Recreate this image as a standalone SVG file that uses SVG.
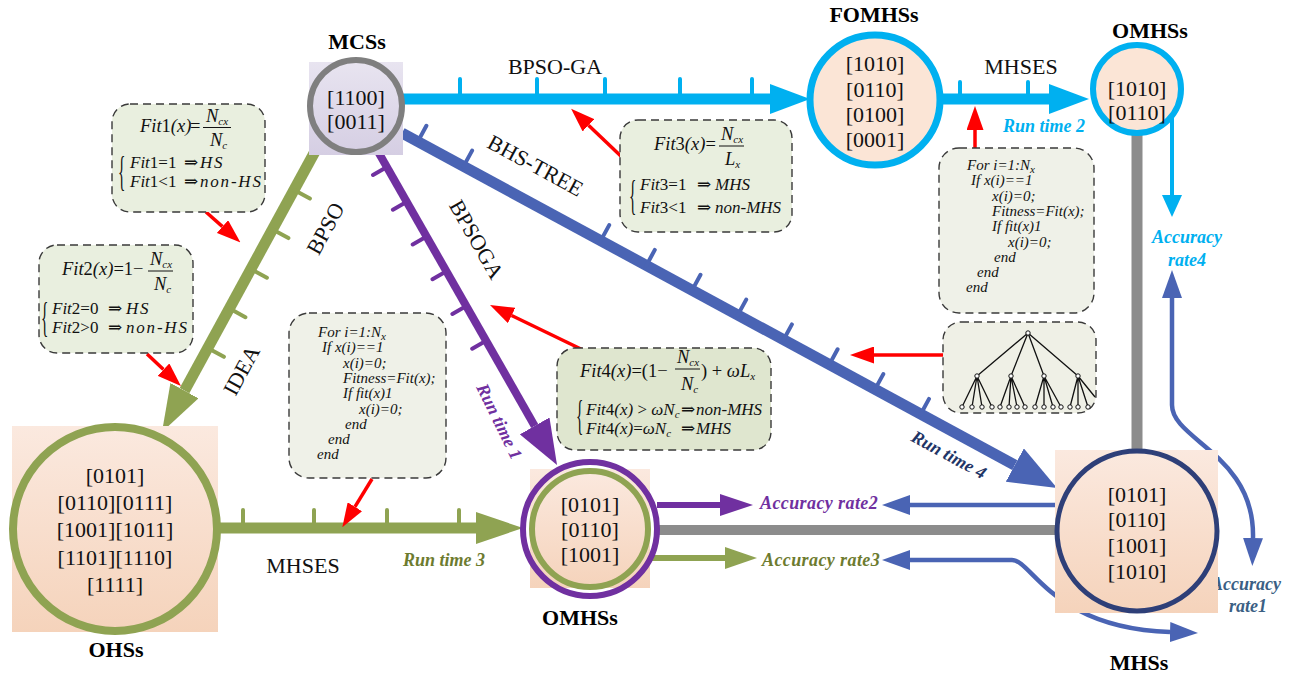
<svg xmlns="http://www.w3.org/2000/svg" width="1298" height="677" viewBox="0 0 1298 677">
<defs>
  <linearGradient id="peach" x1="0" y1="0" x2="0" y2="1">
    <stop offset="0" stop-color="#fbe9df"/>
    <stop offset="1" stop-color="#f5d3bb"/>
  </linearGradient>
  <linearGradient id="lav" x1="0" y1="0" x2="0" y2="1">
    <stop offset="0" stop-color="#e8e4f0"/>
    <stop offset="1" stop-color="#d5cee3"/>
  </linearGradient>
  <marker id="mCy" markerUnits="userSpaceOnUse" viewBox="0 0 40 30" markerWidth="40" markerHeight="30" refX="0" refY="15" orient="auto"><path d="M0,0 L40,15 L0,30 z" fill="#00b0f0"/></marker>
  <marker id="mGr" markerUnits="userSpaceOnUse" viewBox="0 0 47 32" markerWidth="47" markerHeight="32" refX="0" refY="16" orient="auto"><path d="M0,0 L47,16 L0,32 z" fill="#8fa352"/></marker>
  <marker id="mPu" markerUnits="userSpaceOnUse" viewBox="0 0 45 34" markerWidth="45" markerHeight="34" refX="0" refY="17" orient="auto"><path d="M0,0 L45,17 L0,34 z" fill="#7030a0"/></marker>
  <marker id="mBl" markerUnits="userSpaceOnUse" viewBox="0 0 48 38" markerWidth="48" markerHeight="38" refX="0" refY="19" orient="auto"><path d="M0,0 L48,19 L0,38 z" fill="#4a64b4"/></marker>
  <marker id="mPuS" markerUnits="userSpaceOnUse" viewBox="0 0 33 22" markerWidth="33" markerHeight="22" refX="0" refY="11" orient="auto"><path d="M0,0 L33,11 L0,22 z" fill="#7030a0"/></marker>
  <marker id="mGrS" markerUnits="userSpaceOnUse" viewBox="0 0 32 22" markerWidth="32" markerHeight="22" refX="0" refY="11" orient="auto"><path d="M0,0 L32,11 L0,22 z" fill="#8fa352"/></marker>
  <marker id="mBlS" markerUnits="userSpaceOnUse" viewBox="0 0 28 20" markerWidth="28" markerHeight="20" refX="0" refY="10" orient="auto-start-reverse"><path d="M0,0 L28,10 L0,20 z" fill="#4a64b4"/></marker>
  <marker id="mCyS" markerUnits="userSpaceOnUse" viewBox="0 0 22 20" markerWidth="22" markerHeight="20" refX="0" refY="10" orient="auto"><path d="M0,0 L22,10 L0,20 z" fill="#00b0f0"/></marker>
  <marker id="mRed" markerUnits="userSpaceOnUse" viewBox="0 0 24 17" markerWidth="24" markerHeight="17" refX="0" refY="8.5" orient="auto"><path d="M0,0 L24,8.5 L0,17 z" fill="#ff0000"/></marker>
</defs>
<style>
  text{font-family:"Liberation Serif","DejaVu Serif",serif;fill:#111}
  .num{font-size:22px;text-anchor:middle}
  .title{font-size:22px;font-weight:bold;text-anchor:middle;fill:#000}
  .lbl{font-size:22px;text-anchor:middle}
  .rt{font-size:18px;font-weight:bold;font-style:italic}
  .box{stroke:#3a3a3a;stroke-width:1.4;stroke-dasharray:8 5}
  .f{font-size:18.5px;font-style:italic}
  .g{font-size:17px;font-style:italic}
  .w{letter-spacing:1.8px}
  .u{font-style:normal}
  .sub{font-size:11px}
  .br{font-size:28px;font-style:normal}
  .code{font-size:15px;font-style:italic}
  .fl{stroke:#111;stroke-width:1}
  .red{stroke:#ff0000;stroke-width:3.5;fill:none;marker-end:url(#mRed)}
  .tk{fill:none;stroke-width:4;stroke-linecap:round}
  .tree{stroke:#111;stroke-width:1.3;fill:none}
  .leaf{fill:#fff;stroke:#111;stroke-width:1}
</style>

<!-- connectors -->
<g id="connectors">
  <!-- BPSO-GA -->
  <line x1="403" y1="99" x2="770" y2="99" stroke="#00b0f0" stroke-width="11" marker-end="url(#mCy)"/>
  <path class="tk" stroke="#00b0f0" d="M460,99 V79 M537,99 V79 M605,99 V79 M680,99 V79 M752,99 V79"/>
  <!-- MHSES top -->
  <line x1="940" y1="99" x2="1049" y2="99" stroke="#00b0f0" stroke-width="11" marker-end="url(#mCy)"/>
  <path class="tk" stroke="#00b0f0" d="M960,99 V82 M1028,99 V82"/>
  <!-- gray vertical OMHSs to MHSs -->
  <line x1="1137" y1="133" x2="1137" y2="452" stroke="#8c8c8c" stroke-width="11"/>
  <!-- gray horizontal OMHSs to MHSs -->
  <line x1="658" y1="530" x2="1058" y2="530" stroke="#8c8c8c" stroke-width="10"/>
  <!-- BHS-TREE -->
  <line x1="402" y1="133" x2="1014.8" y2="465.1" stroke="#4a64b4" stroke-width="11" marker-end="url(#mBl)"/>
  <path class="tk" stroke="#4a64b4" d="M417.8,141.6 L426.4,125.8 M463.5,166.4 L472.1,150.6 M600.6,240.9 L609.2,225.1 M646.2,265.7 L654.8,249.9 M691.9,290.6 L700.5,274.8 M737.6,315.4 L746.2,299.6 M783.3,340.2 L791.9,324.4 M829,365.1 L837.6,349.3 M874.7,389.9 L883.3,374.1 M920.4,414.7 L929,398.9"/>
  <!-- BPSO / IDEA green -->
  <line x1="318" y1="146" x2="184.5" y2="390.7" stroke="#8fa352" stroke-width="11" marker-end="url(#mGr)"/>
  <path class="tk" stroke="#8fa352" d="M294.1,190 L309.9,198.6 M272.6,229.5 L288.4,238.1 M251.1,269.1 L266.9,277.7 M229.6,308.6 L245.4,317.2 M208.1,348.2 L223.9,356.8"/>
  <!-- BPSOGA purple -->
  <line x1="376" y1="148" x2="534.7" y2="425.9" stroke="#7030a0" stroke-width="8" marker-end="url(#mPu)"/>
  <path class="tk" stroke="#7030a0" d="M386.9,167.1 L373,175 M406.8,201.8 L392.9,209.7 M426.6,236.5 L412.7,244.4 M446.4,271.3 L432.5,279.2 M466.3,306 L452.4,313.9 M486.1,340.8 L472.2,348.7"/>
  <!-- MHSES bottom green -->
  <line x1="220" y1="528" x2="476" y2="528" stroke="#8fa352" stroke-width="11" marker-end="url(#mGr)"/>
  <path class="tk" stroke="#8fa352" d="M243,528 V510 M314,528 V510 M387,528 V510 M459,528 V510"/>
  <!-- accuracy arrows -->
  <line x1="657" y1="505" x2="720" y2="505" stroke="#7030a0" stroke-width="6" marker-end="url(#mPuS)"/>
  <line x1="645" y1="558" x2="725" y2="558" stroke="#8fa352" stroke-width="6" marker-end="url(#mGrS)"/>
  <line x1="1061" y1="505" x2="910" y2="505" stroke="#4a64b4" stroke-width="4.5" marker-end="url(#mBlS)"/>
  <path d="M910,560 L1012,560 C1032,560 1052,628 1170,632" fill="none" stroke="#4a64b4" stroke-width="4.5" marker-start="url(#mBlS)" marker-end="url(#mBlS)"/>
  <line x1="1172" y1="116" x2="1172" y2="195" stroke="#00b0f0" stroke-width="4" marker-end="url(#mCyS)"/>
  <path d="M1172,298 L1172,405 C1172,440 1255,455 1253,538" fill="none" stroke="#4a64b4" stroke-width="4.5" marker-start="url(#mBlS)" marker-end="url(#mBlS)"/>
  <!-- red arrows -->
  <line class="red" x1="625" y1="160" x2="588.5" y2="125.3"/>
  <line class="red" x1="206" y1="212" x2="222.5" y2="226.6"/>
  <line class="red" x1="147" y1="354" x2="163.5" y2="369.6"/>
  <line class="red" x1="372" y1="479" x2="354.9" y2="506.8"/>
  <line class="red" x1="583" y1="350" x2="511.6" y2="315.5"/>
  <line class="red" x1="943" y1="355" x2="874" y2="355"/>
  <line class="red" x1="975" y1="148" x2="975" y2="130"/>
</g>

<!-- edge labels -->
<g id="labels">
  <text class="lbl" x="555" y="74">BPSO-GA</text>
  <text class="lbl" x="1021" y="74">MHSES</text>
  <text class="lbl" x="303" y="573">MHSES</text>
  <text class="lbl" transform="translate(532,172) rotate(28.5)">BHS-TREE</text>
  <text class="lbl" transform="translate(470,243) rotate(60.3)">BPSOGA</text>
  <text class="lbl" transform="translate(332,232) rotate(-61.5)">BPSO</text>
  <text class="lbl" transform="translate(248,374) rotate(-61.5)">IDEA</text>
  <text class="rt" x="1003" y="132" style="fill:#00b0f0">Run time 2</text>
  <text class="rt" x="403" y="566" style="fill:#6d7b2f">Run time 3</text>
  <text class="rt" text-anchor="middle" transform="translate(494,424) rotate(64)" style="fill:#7030a0">Run time 1</text>
  <text class="rt" text-anchor="middle" transform="translate(946,460) rotate(28.5)" style="fill:#1f3566">Run time 4</text>
  <text class="rt" x="760" y="509" style="fill:#7030a0;letter-spacing:0.4px">Accuracy rate2</text>
  <text class="rt" x="762" y="566" style="fill:#6d7b2f;letter-spacing:0.4px">Accuracy rate3</text>
  <text class="rt" x="1187" y="243" text-anchor="middle" style="fill:#00b0f0">Accuracy</text>
  <text class="rt" x="1187" y="266" text-anchor="middle" style="fill:#00b0f0">rate4</text>
  <text class="rt" x="1246" y="590" text-anchor="middle" style="fill:#3b5f84">Accuracy</text>
  <text class="rt" x="1248" y="612" text-anchor="middle" style="fill:#3b5f84">rate1</text>
</g>

<!-- nodes -->
<g id="mcss">
  <rect x="309" y="62" width="94" height="93" fill="url(#lav)"/>
  <circle cx="356" cy="106" r="46" fill="none" stroke="#7f7f7f" stroke-width="6"/>
  <text class="num" x="356" y="105">[1100]</text>
  <text class="num" x="356" y="129">[0011]</text>
  <text class="title" x="357" y="49">MCSs</text>
</g>
<g id="fomhss">
  <circle cx="875" cy="100" r="65" fill="#fbe5d6" stroke="#00b0f0" stroke-width="7"/>
  <text class="num" x="875" y="71">[1010]</text>
  <text class="num" x="875" y="97">[0110]</text>
  <text class="num" x="875" y="122">[0100]</text>
  <text class="num" x="875" y="147">[0001]</text>
  <text class="title" x="874" y="22">FOMHSs</text>
</g>
<g id="omhss-top">
  <circle cx="1137" cy="89" r="44" fill="#fbe5d6" stroke="#00b0f0" stroke-width="6"/>
  <text class="num" x="1137" y="96">[1010]</text>
  <text class="num" x="1137" y="120">[0110]</text>
  <text class="title" x="1150" y="38">OMHSs</text>
</g>
<g id="ohss">
  <rect x="12" y="426" width="206" height="206" fill="url(#peach)"/>
  <circle cx="115" cy="529" r="102" fill="none" stroke="#8fa352" stroke-width="8"/>
  <text class="num" x="115" y="483">[0101]</text>
  <text class="num" x="115" y="510">[0110][0111]</text>
  <text class="num" x="115" y="537">[1001][1011]</text>
  <text class="num" x="115" y="565">[1101][1110]</text>
  <text class="num" x="115" y="592">[1111]</text>
  <text class="title" x="116" y="657">OHSs</text>
</g>
<g id="omhss-mid">
  <rect x="530" y="469" width="120" height="119" fill="url(#peach)"/>
  <circle cx="590" cy="529" r="67" fill="none" stroke="#7030a0" stroke-width="6"/>
  <circle cx="590" cy="529" r="58" fill="none" stroke="#8fa352" stroke-width="6"/>
  <text class="num" x="590" y="512">[0101]</text>
  <text class="num" x="590" y="537">[0110]</text>
  <text class="num" x="590" y="562">[1001]</text>
  <text class="title" x="580" y="625">OMHSs</text>
</g>
<g id="mhss">
  <rect x="1055" y="450" width="163" height="163" fill="url(#peach)"/>
  <circle cx="1137" cy="531" r="80" fill="none" stroke="#2e3f78" stroke-width="5"/>
  <text class="num" x="1137" y="502">[0101]</text>
  <text class="num" x="1137" y="527">[0110]</text>
  <text class="num" x="1137" y="553">[1001]</text>
  <text class="num" x="1137" y="579">[1010]</text>
  <text class="title" x="1139" y="670">MHSs</text>
</g>

<!-- formula boxes -->
<g id="fit1">
  <rect class="box" x="112" y="104" width="153" height="108" rx="18" fill="#e9efdf"/>
  <text class="f" x="140" y="132">Fit<tspan class="u">1</tspan>(x)</text>
  <text class="f u" x="190" y="132">=</text>
  <text class="f" x="206" y="122">N<tspan class="sub" dy="3">cx</tspan></text>
  <line class="fl" x1="203" y1="127.5" x2="231" y2="127.5"/>
  <text class="f" x="210" y="146">N<tspan class="sub" dy="3">c</tspan></text>
  <text class="br" transform="translate(118,185) scale(0.55,1.5)">{</text>
  <text class="g" x="130" y="168">Fit<tspan class="u">1=1</tspan></text>
  <text class="g u" x="184" y="168">⇒</text>
  <text class="g w" x="200" y="168">HS</text>
  <text class="g" x="130" y="187">Fit<tspan class="u">1&lt;1</tspan></text>
  <text class="g u" x="184" y="187">⇒</text>
  <text class="g w" x="200" y="187">non-HS</text>
</g>
<g id="fit2">
  <rect class="box" x="39" y="245" width="154" height="108" rx="18" fill="#e9efdf"/>
  <text class="f" x="62" y="275">Fit<tspan class="u">2</tspan>(x)<tspan class="u">=1−</tspan></text>
  <text class="f" x="150" y="265">N<tspan class="sub" dy="3">cx</tspan></text>
  <line class="fl" x1="148" y1="271" x2="173" y2="271"/>
  <text class="f" x="154" y="290">N<tspan class="sub" dy="3">c</tspan></text>
  <text class="br" transform="translate(41,331) scale(0.55,1.5)">{</text>
  <text class="g" x="52" y="314">Fit<tspan class="u">2=0</tspan></text>
  <text class="g u" x="108" y="314">⇒</text>
  <text class="g w" x="126" y="314">HS</text>
  <text class="g" x="52" y="333">Fit<tspan class="u">2&gt;0</tspan></text>
  <text class="g u" x="108" y="333">⇒</text>
  <text class="g w" x="126" y="333">non-HS</text>
</g>
<g id="fit3">
  <rect class="box" x="620" y="120" width="172" height="112" rx="18" fill="#e9efdf"/>
  <text class="f" x="654" y="150">Fit<tspan class="u">3</tspan>(x)<tspan class="u">=</tspan></text>
  <text class="f" x="721" y="140">N<tspan class="sub" dy="3">cx</tspan></text>
  <line class="fl" x1="719" y1="146" x2="744" y2="146"/>
  <text class="f" x="725" y="165">L<tspan class="sub" dy="3">x</tspan></text>
  <text class="br" transform="translate(629,209) scale(0.55,1.5)">{</text>
  <text class="g" x="640" y="190">Fit<tspan class="u">3=1</tspan></text>
  <text class="g u" x="697" y="190">⇒</text>
  <text class="g" x="715" y="190">MHS</text>
  <text class="g" x="640" y="213">Fit<tspan class="u">3&lt;1</tspan></text>
  <text class="g u" x="697" y="213">⇒</text>
  <text class="g" x="715" y="213">non-MHS</text>
</g>
<g id="fit4">
  <rect class="box" x="557" y="348" width="214" height="102" rx="18" fill="#dfe6cf"/>
  <text class="f" x="580" y="377">Fit<tspan class="u">4</tspan>(x)<tspan class="u">=(1−</tspan></text>
  <text class="f" x="677" y="363">N<tspan class="sub" dy="3">cx</tspan></text>
  <line class="fl" x1="675" y1="369" x2="700" y2="369"/>
  <text class="f" x="681" y="390">N<tspan class="sub" dy="3">c</tspan></text>
  <text class="f" x="701" y="377"><tspan class="u">) + </tspan>ωL<tspan class="sub" dy="3">x</tspan></text>
  <text class="br" transform="translate(576,429) scale(0.55,1.5)">{</text>
  <text class="g" x="586" y="415">Fit<tspan class="u">4</tspan>(x) <tspan class="u">&gt;</tspan> ωN<tspan class="sub" dy="3">c</tspan></text>
  <text class="g u" x="681" y="415">⇒</text>
  <text class="g" x="696" y="415">non-MHS</text>
  <text class="g" x="586" y="434">Fit<tspan class="u">4</tspan>(x)<tspan class="u">=</tspan>ωN<tspan class="sub" dy="3">c</tspan></text>
  <text class="g u" x="681" y="434">⇒</text>
  <text class="g" x="696" y="434">MHS</text>
</g>
<g id="code1">
  <rect class="box" x="289" y="313" width="157" height="165" rx="20" fill="#eff1e8"/>
  <text class="code" x="318" y="337">For i=1:N<tspan class="sub" dy="3">x</tspan></text>
  <text class="code" x="322" y="352">If x(i)==1</text>
  <text class="code" x="343" y="368">x(i)=0;</text>
  <text class="code" x="343" y="383">Fitness=Fit(x);</text>
  <text class="code" x="343" y="398">If fit(x)1</text>
  <text class="code" x="359" y="414">x(i)=0;</text>
  <text class="code" x="345" y="429">end</text>
  <text class="code" x="328" y="444">end</text>
  <text class="code" x="317" y="459">end</text>
</g>
<g id="code2">
  <rect class="box" x="939" y="148" width="155" height="165" rx="20" fill="#eff1e8"/>
  <text class="code" x="967" y="170">For i=1:N<tspan class="sub" dy="3">x</tspan></text>
  <text class="code" x="971" y="185">If x(i)==1</text>
  <text class="code" x="992" y="201">x(i)=0;</text>
  <text class="code" x="992" y="216">Fitness=Fit(x);</text>
  <text class="code" x="992" y="231">If fit(x)1</text>
  <text class="code" x="1008" y="247">x(i)=0;</text>
  <text class="code" x="994" y="262">end</text>
  <text class="code" x="977" y="277">end</text>
  <text class="code" x="966" y="292">end</text>
</g>
<g id="tree">
  <rect class="box" x="943" y="322" width="153" height="91" rx="18" fill="#eff0e6"/>
  <path class="tree" d="M1028,333 L977,376 M1028,333 L1011,376 M1028,333 L1044,376 M1028,333 L1078,376
    M977,376 L962,407 M977,376 L972,407 M977,376 L982,407 M977,376 L992,407
    M1011,376 L1000,407 M1011,376 L1009,407 M1011,376 L1017,407 M1011,376 L1025,407
    M1044,376 L1035,407 M1044,376 L1044,407 M1044,376 L1053,407 M1044,376 L1061,407
    M1078,376 L1070,407 M1078,376 L1078,407 M1078,376 L1088,407 M1078,376 L1095,397"/>
  <circle class="leaf" cx="1028" cy="333" r="2.2"/>
  <circle class="leaf" cx="977" cy="376" r="2.2"/><circle class="leaf" cx="1011" cy="376" r="2.2"/>
  <circle class="leaf" cx="1044" cy="376" r="2.2"/><circle class="leaf" cx="1078" cy="376" r="2.2"/>
  <circle class="leaf" cx="962" cy="407" r="2.2"/><circle class="leaf" cx="972" cy="407" r="2.2"/>
  <circle class="leaf" cx="982" cy="407" r="2.2"/><circle class="leaf" cx="992" cy="407" r="2.2"/>
  <circle class="leaf" cx="1000" cy="407" r="2.2"/><circle class="leaf" cx="1009" cy="407" r="2.2"/>
  <circle class="leaf" cx="1017" cy="407" r="2.2"/><circle class="leaf" cx="1025" cy="407" r="2.2"/>
  <circle class="leaf" cx="1035" cy="407" r="2.2"/><circle class="leaf" cx="1044" cy="407" r="2.2"/>
  <circle class="leaf" cx="1053" cy="407" r="2.2"/><circle class="leaf" cx="1061" cy="407" r="2.2"/>
  <circle class="leaf" cx="1070" cy="407" r="2.2"/><circle class="leaf" cx="1078" cy="407" r="2.2"/>
  <circle class="leaf" cx="1088" cy="407" r="2.2"/>
</g>
</svg>
